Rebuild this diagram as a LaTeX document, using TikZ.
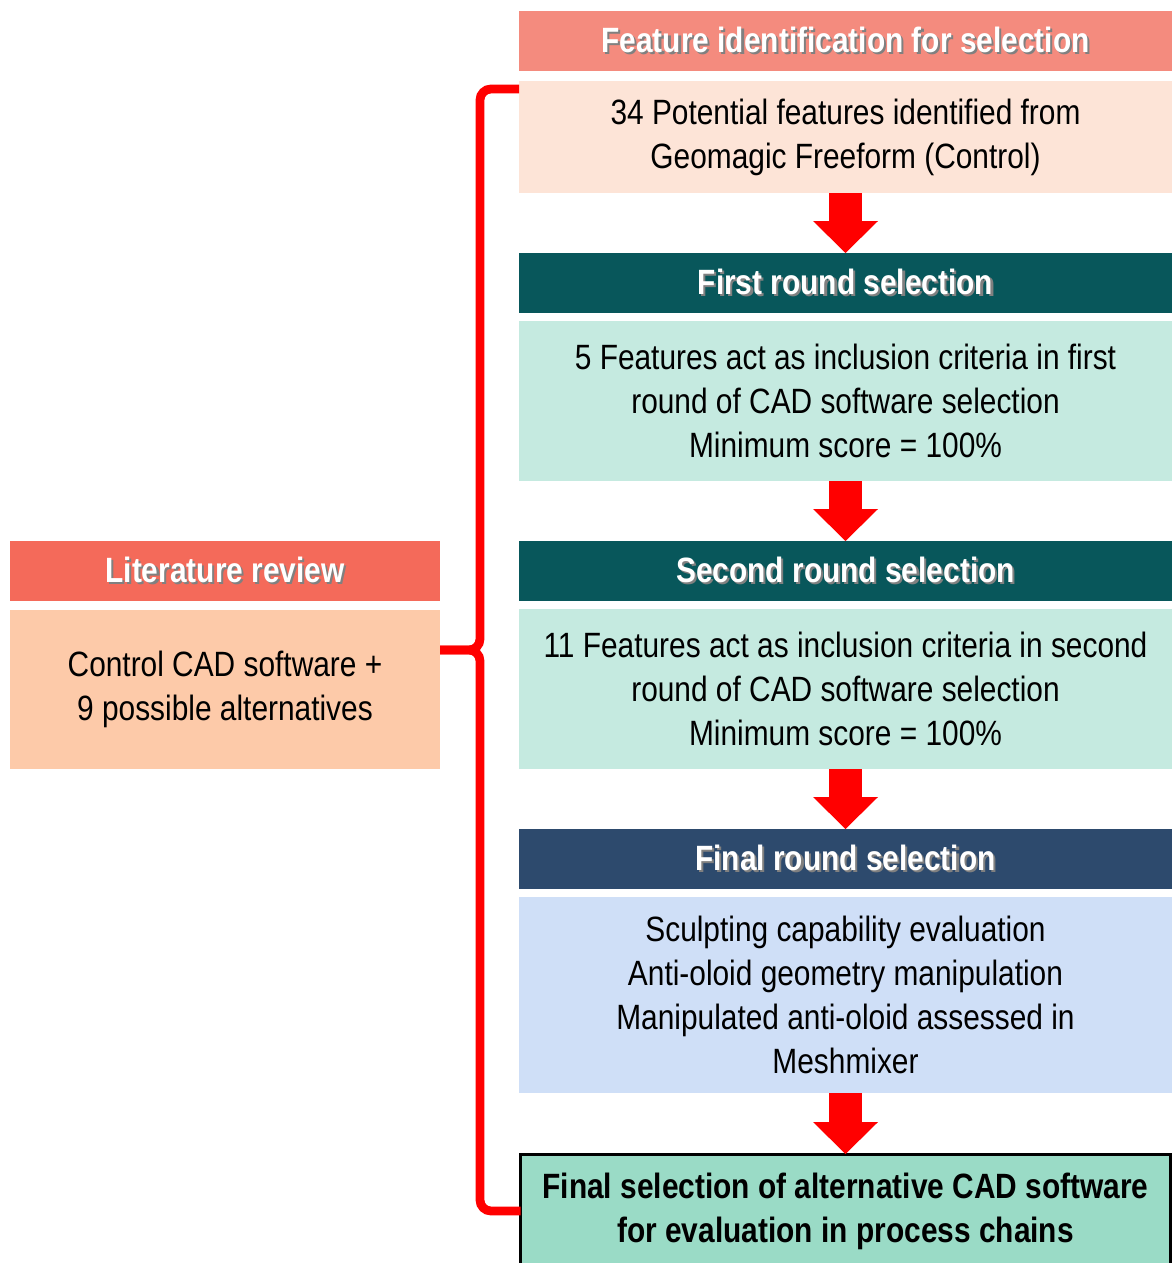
\documentclass[tikz,border=0pt]{standalone}
\usepackage{fontspec}
\setmainfont{Liberation Sans}[FakeStretch=0.85]
\usepackage{tikz}
\usetikzlibrary{arrows.meta, positioning, calc}

\definecolor{hdsalmon}{HTML}{F48B7E}
\definecolor{bdsalmon}{HTML}{FDE4D7}
\definecolor{hdteal}{HTML}{08575B}
\definecolor{bdteal}{HTML}{C5EAE0}
\definecolor{hdnavy}{HTML}{2D4A6D}
\definecolor{bdblue}{HTML}{CFDFF7}
\definecolor{resgreen}{HTML}{9ADBC6}
\definecolor{hdcoral}{HTML}{F46A5A}
\definecolor{bdpeach}{HTML}{FDCAA9}

\newcommand{\shadowtext}[1]{\leavevmode\rlap{\kern1.2pt\raisebox{-1.2pt}{\textcolor{black!50}{#1}}}#1}

\begin{document}
\begin{tikzpicture}

	\tikzset{
		head/.style={
				rectangle, minimum width=13.06cm, minimum height=1.2cm, inner sep=0pt, outer sep=0pt, text=white, font=\fontsize{20}{25}\selectfont\bfseries
			},
		body/.style={
				rectangle, minimum width=13.06cm, inner sep=0pt, outer sep=0pt, align=center, font=\fontsize{20}{25}\selectfont
			},
		result/.style={
				rectangle, draw=black, line width=1.7pt, fill=resgreen, minimum width=13.0cm, minimum height=2.28cm, inner sep=0pt, outer sep=0pt, align=center, font=\fontsize{20}{25}\selectfont\bfseries
			},
		downarrow/.style={
				draw=red, line width=0.66cm, -{Triangle[width=1.3cm, length=0.64cm, line width=0pt]}
			},
		bracket/.style={
				draw=red, line width=5pt, rounded corners=0.22cm
			},
	}
	\useasboundingbox (0,0) rectangle (23.44,-25.26);

	\node[head, fill=hdsalmon](feathead) at (16.91,-0.82){\shadowtext{Feature identification for selection}};
	\node[body, fill=bdsalmon, minimum height=2.24cm, below=0.2cm of feathead](featbody){34 Potential features identified from\\
		Geomagic Freeform (Control)};
	\node[head, fill=hdteal, below=1.2cm of featbody](firsthead){\shadowtext{First round selection}};
	\node[body, fill=bdteal, minimum height=3.2cm, below=0.16cm of firsthead](firstbody){5 Features act as inclusion criteria in first\\
		round of CAD software selection\\
		Minimum score = 100\%};
	\node[head, fill=hdteal, below=1.2cm of firstbody](secondhead){\shadowtext{Second round selection}};
	\node[body, fill=bdteal, minimum height=3.2cm, below=0.16cm of secondhead](secondbody){11 Features act as inclusion criteria in second\\
		round of CAD software selection\\
		Minimum score = 100\%};
	\node[head, fill=hdnavy, below=1.2cm of secondbody](finalhead){\shadowtext{Final round selection}};
	\node[body, fill=bdblue, minimum height=3.92cm, below=0.16cm of finalhead](finalbody){Sculpting capability evaluation\\
		Anti-oloid geometry manipulation\\
		Manipulated anti-oloid assessed in\\
		Meshmixer};
	\node[result, below=1.22cm of finalbody](res){Final selection of alternative CAD software\\
		for evaluation in process chains};

	\node[head, fill=hdcoral, minimum width=8.6cm, left=1.58cm of secondhead](lithead){\shadowtext{Literature review}};
	\node[body, fill=bdpeach, minimum width=8.6cm, minimum height=3.18cm, below=0.18cm of lithead](litbody){Control CAD software +\\
		9 possible alternatives};

	\draw[downarrow] (featbody.south)--(firsthead.north);
	\draw[downarrow] (firstbody.south)--(secondhead.north);
	\draw[downarrow] (secondbody.south)--(finalhead.north);
	\draw[downarrow] (finalbody.south)--(res.north);

	\coordinate (bt) at ([yshift=-0.16cm]featbody.north west);
	\coordinate (bb) at (res.west);
	\coordinate (bx) at ([xshift=-0.78cm]featbody.west);
	\coordinate (bmid) at ($(bt)!0.5!(bb)$);
	\draw[bracket] (bt) -| (bx |- bmid) -- (litbody.east |- bmid);
	\draw[bracket] (bb) -| (bx |- bmid) -- (litbody.east |- bmid);

\end{tikzpicture}
\end{document}
